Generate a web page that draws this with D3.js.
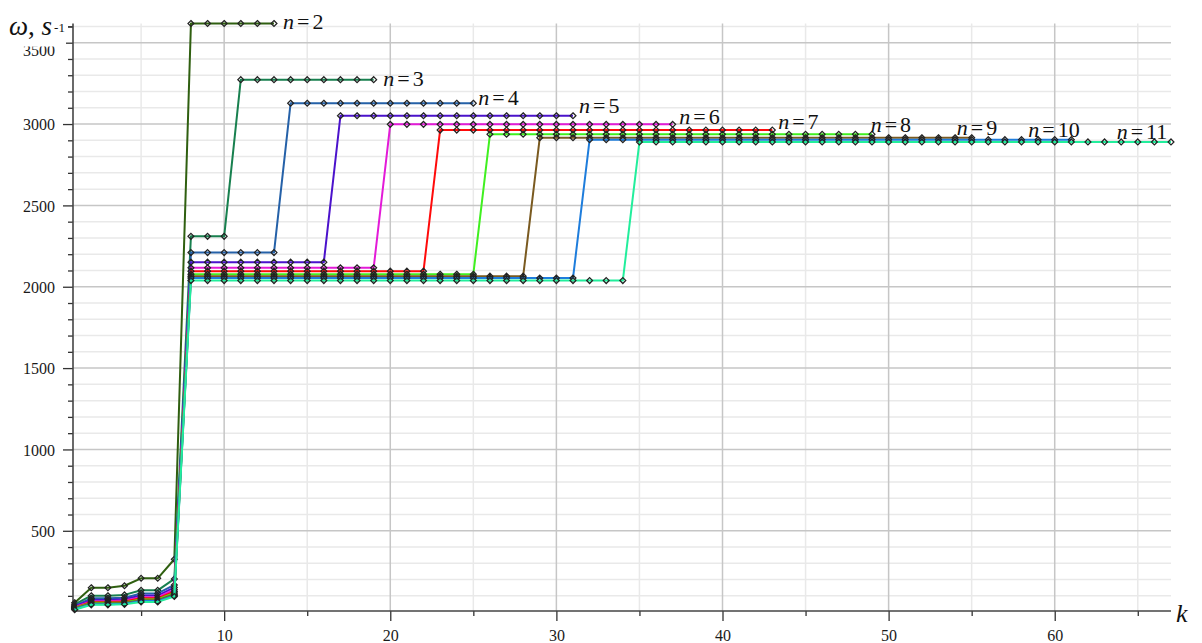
<!DOCTYPE html>
<html>
<head>
<meta charset="utf-8">
<script src="https://cdn.jsdelivr.net/npm/d3@7"></script>
<style>
  html, body { margin: 0; padding: 0; background: #fff; }
  svg { display: block; }
</style>
</head>
<body>
<svg id="chart" width="1202" height="643"></svg>
<script>
// Number of elements n for each curve
const seriesN = [2, 3, 4, 5, 6, 7, 8, 9, 10, 11];

// ω for k = 1..7 (initial growth before the first jump)
const lowValues = [
  [58, 150, 150, 162, 208, 208, 325],
  [48, 101, 101, 106, 134, 134, 204],
  [40, 85, 85, 89, 115, 115, 167],
  [35, 75, 75, 79, 102, 102, 152],
  [31, 67, 67, 71, 92, 92, 138],
  [28, 62, 62, 65, 85, 85, 127],
  [25, 57, 57, 60, 78, 78, 118],
  [22, 53, 53, 56, 73, 73, 110],
  [19, 49, 49, 52, 68, 68, 103],
  [15, 45, 45, 48, 63, 63, 96]
];

// First plateau (k = 8 .. lowerEnd), absent for n = 2
const lowerPlateau = [null, 2310, 2210, 2151, 2116, 2096, 2077, 2065, 2053, 2038];
const lowerEnd     = [7, 10, 13, 16, 19, 22, 25, 28, 31, 34];

// Second plateau (k = lowerEnd+1 .. lastK)
const upperPlateau = [3618, 3273, 3128, 3051, 2998, 2963, 2937, 2916, 2904, 2890];
const lastK        = [13, 19, 25, 31, 37, 43, 49, 55, 61, 67];

// Axis ticks
const xMajorTicks = [10, 20, 30, 40, 50, 60];
const xMinorTicks = [5, 15, 25, 35, 45, 55, 65];
const yMajorTicks = [500, 1000, 1500, 2000, 2500, 3000, 3500];
const yMinorTicks = d3.range(100, 3700, 100).filter(v => v % 500 !== 0);

// Curve colours
const palette = ["#2f5f10", "#18804f", "#2561a8", "#4b12cc", "#e31ad8",
                 "#ff0a0a", "#40f020", "#7a5a20", "#1e7ddc", "#22ee9c"];

// Label anchors [k, ω] for the "n=…" captions
const labelAnchors = [
  [13.54, 3582], [19.58, 3234], [25.3, 3115], [31.36, 3068], [37.4, 3003],
  [43.35, 2972], [48.92, 2951], [54.1, 2931], [58.41, 2921], [63.73, 2911]
];

// Build each curve's point list from the tabulated pieces
const series = seriesN.map((n, i) => {
  const pts = [];
  lowValues[i].forEach((v, j) => pts.push({ k: j + 1, w: v }));
  for (let k = 8; k <= lowerEnd[i]; k++) pts.push({ k, w: lowerPlateau[i] });
  for (let k = lowerEnd[i] + 1; k <= lastK[i]; k++) pts.push({ k, w: upperPlateau[i] });
  return { n, pts, color: palette[i], label: labelAnchors[i] };
});

const svg = d3.select("#chart");
const serif = "Liberation Serif";

const x = d3.scaleLinear().domain([0.9, 67]).range([73, 1171]);
const y = d3.scaleLinear().domain([7, 3618]).range([611, 23.5]);

// Grid
const grid = svg.append("g");
grid.selectAll(".ymin").data(yMinorTicks).join("line")
  .attr("x1", x(0.9)).attr("x2", x(67))
  .attr("y1", d => y(d)).attr("y2", d => y(d))
  .attr("stroke", "#e9e9e9").attr("stroke-width", 1.5);
grid.selectAll(".xmin").data(xMinorTicks).join("line")
  .attr("y1", y(7)).attr("y2", y(3618))
  .attr("x1", d => x(d)).attr("x2", d => x(d))
  .attr("stroke", "#e9e9e9").attr("stroke-width", 1.5);
grid.selectAll(".ymaj").data(yMajorTicks).join("line")
  .attr("x1", x(0.9)).attr("x2", x(67))
  .attr("y1", d => y(d)).attr("y2", d => y(d))
  .attr("stroke", "#c6c6c6").attr("stroke-width", 1.5);
grid.selectAll(".xmaj").data(xMajorTicks).join("line")
  .attr("y1", y(7)).attr("y2", y(3618))
  .attr("x1", d => x(d)).attr("x2", d => x(d))
  .attr("stroke", "#c6c6c6").attr("stroke-width", 1.5);

// Axes
const xAxis = d3.axisBottom(x).tickValues(xMajorTicks).tickSize(10).tickFormat(d3.format("d"));
const xAxisMinor = d3.axisBottom(x).tickValues(xMinorTicks).tickSize(5).tickFormat("");
const yAxis = d3.axisLeft(y).tickValues(yMajorTicks).tickSize(10).tickFormat(d3.format("d"));
const yAxisMinor = d3.axisLeft(y).tickValues(yMinorTicks.concat([3600])).tickSize(5).tickFormat("");

function styleAxis(g) {
  g.select(".domain").remove();
  g.selectAll("line").attr("stroke", "#333").attr("stroke-width", 1.3);
  g.selectAll("text").style("font-family", serif).attr("font-size", 16).attr("fill", "#1a1a1a");
}

const gx = svg.append("g").attr("transform", `translate(0,${y(7)})`).call(xAxis).call(styleAxis);
gx.selectAll("text").attr("dy", null).attr("y", 29.5);
svg.append("g").attr("transform", `translate(0,${y(7)})`).call(xAxisMinor).call(styleAxis);

const gy = svg.append("g").attr("transform", `translate(${x(0.9)},0)`).call(yAxis).call(styleAxis);
gy.selectAll("text").attr("x", -18).attr("dy", "0.36em");
gy.selectAll(".tick").filter(d => d === 3500).select("text").attr("dy", "0.8em");
svg.append("g").attr("transform", `translate(${x(0.9)},0)`).call(yAxisMinor).call(styleAxis);

// Axis lines
svg.append("line").attr("x1", x(0.9)).attr("x2", x(67)).attr("y1", y(7)).attr("y2", y(7))
  .attr("stroke", "#444").attr("stroke-width", 1.6);
svg.append("line").attr("x1", x(0.9)).attr("x2", x(0.9)).attr("y1", y(7)).attr("y2", y(3618))
  .attr("stroke", "#444").attr("stroke-width", 1.6);

// Curves with diamond markers
const line = d3.line().x(d => x(d.k)).y(d => y(d.w));
const diamond = d3.symbol().type(d3.symbolDiamond2).size(22);

series.forEach(s => {
  svg.append("path").datum(s.pts)
    .attr("d", line).attr("fill", "none")
    .attr("stroke", s.color).attr("stroke-width", 2).attr("stroke-linejoin", "round");
  svg.append("g").selectAll("path").data(s.pts).join("path")
    .attr("d", diamond)
    .attr("transform", d => `translate(${x(d.k)},${y(d.w)})`)
    .attr("fill", "none").attr("stroke", "#222").attr("stroke-width", 1.25);
});

// n=… captions
series.forEach(s => {
  const t = svg.append("text")
    .attr("x", x(s.label[0])).attr("y", y(s.label[1]))
    .style("font-family", serif).attr("font-size", 22).attr("fill", "#111");
  t.append("tspan").attr("font-style", "italic").text("n");
  t.append("tspan").attr("dx", 3).text("=");
  t.append("tspan").attr("dx", 3).text(s.n);
});

// Axis titles
svg.append("rect").attr("x", 0).attr("y", 0).attr("width", 66).attr("height", 46.5).attr("fill", "#fff");
const title = svg.append("text").attr("x", 9).attr("y", 34.5)
  .style("font-family", serif).attr("font-size", 27).attr("fill", "#111");
title.append("tspan").attr("font-style", "italic").text("ω");
title.append("tspan").text(", ");
title.append("tspan").attr("font-style", "italic").text("s");
title.append("tspan").attr("font-size", 13).attr("dx", 2).attr("dy", -3).text("-1");

svg.append("text").attr("x", 1176).attr("y", 622)
  .style("font-family", serif).attr("font-size", 26).attr("font-style", "italic")
  .attr("fill", "#111").text("k");
</script>
</body>
</html>
